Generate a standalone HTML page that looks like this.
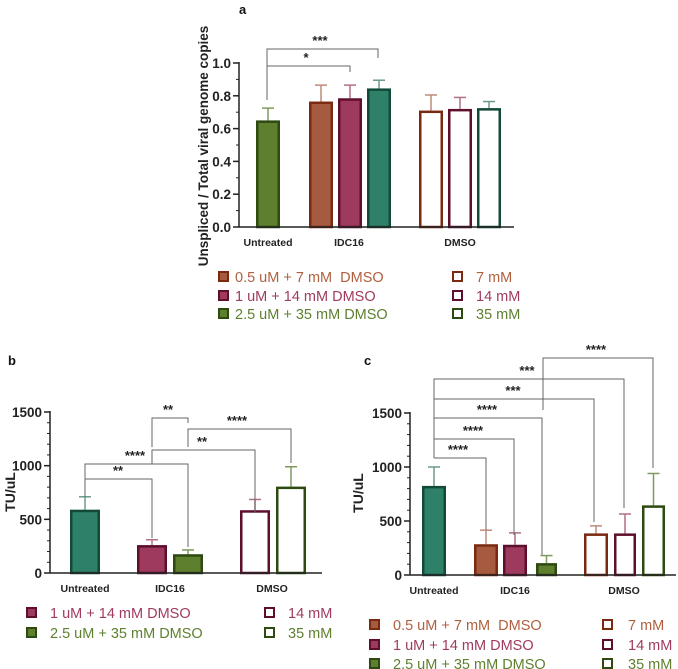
<!DOCTYPE html>
<html><head><meta charset="utf-8">
<style>
html,body{margin:0;padding:0;background:#fff;}
svg{display:block;font-family:"Liberation Sans",Arial,sans-serif;}
</style></head>
<body>
<svg id="fig" width="678" height="669" viewBox="0 0 678 669"></svg>
<script>
// ---- data ----
const catsA = ["Untreated","IDC16","DMSO"];
const valsA = [0.65, 0.765, 0.785, 0.845, 0.71, 0.72, 0.725];
const errA  = [0.725, 0.865, 0.865, 0.895, 0.805, 0.79, 0.765];
const ticksA = [0.0, 0.2, 0.4, 0.6, 0.8, 1.0];
const valsB = [590, 260, 175, 585, 805];
const errB  = [710, 310, 215, 685, 990];
const ticksB = [0, 500, 1000, 1500];
const valsC = [825, 285, 280, 110, 385, 385, 645];
const errC  = [1000, 415, 390, 180, 455, 565, 940];
const ticksC = [0, 500, 1000, 1500];
const sigA = ["*","***"];
const sigB = ["**","****","**","****","**"];
const sigC = ["****","****","****","***","***","****"];

const NS="http://www.w3.org/2000/svg";
const svg=document.getElementById('fig');
function el(tag,attrs,parent){const e=document.createElementNS(NS,tag);for(const k in attrs)e.setAttribute(k,attrs[k]);(parent||svg).appendChild(e);return e;}
function txt(s,attrs,parent){const t=el('text',attrs,parent);t.textContent=s;return t;}

const ST={
 teal:{fill:'#2e8068',stroke:'#124a38'},
 org:{fill:'#a65a3f',stroke:'#7a2a10'},
 mag:{fill:'#9e3a5e',stroke:'#5e0f2e'},
 grn:{fill:'#5e7f2e',stroke:'#2d4a10'},
 horg:{fill:'#fff',stroke:'#7a2a10'},
 hmag:{fill:'#fff',stroke:'#5e0f2e'},
 hgrn:{fill:'#fff',stroke:'#2d4a10'},
 hteal:{fill:'#fff',stroke:'#124a38'}
};
const errCol={teal:'#6a9a88',org:'#c08a78',mag:'#b07088',grn:'#7e9a5e',horg:'#c08a78',hmag:'#b07088',hgrn:'#7e9a5e',hteal:'#6a9a88'};

function panel(o){
 const g=el('g',{});
 
 
 const y=v=>o.y0-(v-o.min)/(o.max-o.min)*(o.y0-o.ytop);
 o.vals.forEach((v,i)=>{
  const b=o.bars[i], s=ST[b.s];
  const cx=b.x+b.w/2;
  const ln=el('line',{x1:cx,x2:cx,y1:y(v),y2:y(o.err[i]),stroke:errCol[b.s],'stroke-width':1.5},g);
  
  
  const cap=el('line',{x1:cx-6,x2:cx+6,y1:y(o.err[i]),y2:y(o.err[i]),stroke:errCol[b.s],'stroke-width':1.5},g);
  
  
  const r=el('rect',{x:b.x+1.25,y:y(v)+1.25,width:b.w-2.5,height:Math.max(0,o.y0-y(v)-1.25),fill:s.fill,stroke:s.stroke,'stroke-width':2.5},g);
  
  
 });
 el('line',{x1:o.ax,x2:o.ax,y1:o.ytop-1,y2:o.y0,stroke:'#222','stroke-width':1.5},g);
 el('line',{x1:o.ax,x2:o.xend,y1:o.y0,y2:o.y0,stroke:'#222','stroke-width':1.5},g);
 for(let k=0;k<=o.minorN;k++){const v=o.min+(o.max-o.min)*k/o.minorN;el('line',{x1:o.ax-3,x2:o.ax,y1:y(v),y2:y(v),stroke:'#222','stroke-width':1},g);}
 o.ticks.forEach(t=>{
  el('line',{x1:o.ax-6,x2:o.ax,y1:y(t),y2:y(t),stroke:'#222','stroke-width':1.5},g);
  const tl=txt(o.fmt(t),{x:o.ax-8,y:y(t)+5,'text-anchor':'end','font-size':13.5,'font-weight':'bold',fill:'#222'},g);
  
  
 });
 o.cats.forEach((c,i)=>{
  const t=txt(c,{x:o.catX[i],y:o.catY,'text-anchor':'middle','font-size':10.5,'font-weight':'bold',fill:'#222'},g);
  
  
 });
 const yt=txt(o.title,{x:0,y:0,transform:`translate(${o.titleX},${o.titleY}) rotate(-90)`,'text-anchor':'middle','font-size':o.titleSize||14,'font-weight':'bold',fill:'#222'},g);
 
 
 o.brk.forEach((b,i)=>{
  const p=el('path',{d:`M${b[0]},${b[3]}V${b[2]}H${b[1]}V${b[4]}`,fill:'none',stroke:'#666','stroke-width':1},g);
  
  
  const t=txt(o.sig[i],{x:b[5],y:b[2]-4,'text-anchor':'middle','font-size':13,'font-weight':'bold',fill:'#222'},g);
  
  
 });
 o.leg.forEach(L=>{
  const s=ST[L.s];
  const r=el('rect',{x:L.x+1,y:L.y-5,width:9,height:9,fill:s.fill,stroke:s.stroke,'stroke-width':2},g);
  
  
  const t=txt(L.t,{x:L.tx,y:L.y+5,'font-size':14.5,fill:L.c},g);
  
  
 });
 return y;
}

const cO='#b0603f', cM='#a03a60', cG='#5e8030';
const L05='0.5 uM + 7 mM\u00a0\u00a0DMSO';

panel({name:'panel-a',vals:valsA,err:errA,ticks:ticksA,min:0,max:1,y0:227,ytop:63,ax:239,xend:514,minorN:10,
 fmt:t=>t.toFixed(1),
 bars:[{x:256,w:24,s:'grn'},{x:309,w:24,s:'org'},{x:338,w:24,s:'mag'},{x:367,w:24,s:'teal'},{x:419,w:24,s:'horg'},{x:448,w:24,s:'hmag'},{x:477,w:24,s:'hteal'}],
 cats:catsA,catX:[268,349,460],catY:246,title:'Unspliced / Total viral genome copies',titleX:208,titleY:146,titleSize:13.5,
 sig:sigA,brk:[[267,350,66,72,72,306],[267,378,49,100,58,320]],
 leg:[{x:218,y:277,s:'org',t:L05,tx:235,c:cO},{x:218,y:296,s:'mag',t:'1 uM + 14 mM DMSO',tx:235,c:cM},{x:218,y:314,s:'grn',t:'2.5 uM + 35 mM DMSO',tx:235,c:cG},
      {x:452,y:277,s:'horg',t:'7 mM',tx:476,c:cO},{x:452,y:296,s:'hmag',t:'14 mM',tx:476,c:cM},{x:452,y:314,s:'hgrn',t:'35 mM',tx:476,c:cG}]
});
panel({name:'panel-b',vals:valsB,err:errB,ticks:ticksB,min:0,max:1500,y0:573,ytop:412,ax:50,xend:322,minorN:15,
 fmt:t=>String(t),
 bars:[{x:70,w:30,s:'teal'},{x:137,w:30,s:'mag'},{x:173,w:30,s:'grn'},{x:240,w:30,s:'hmag'},{x:276,w:30,s:'hgrn'}],
 cats:["Untreated","IDC16","DMSO"],catX:[85,170,272],catY:592,title:'TU/uL',titleX:15,titleY:492,
 sig:sigB,brk:[[85,152,479,497,538,118],[85,188,464,479,547,135],[152,255,450,464,513,202],[188,291,429,447,463,237],[152,188,418,447,423,168]],
 leg:[{x:26,y:613,s:'mag',t:'1 uM + 14 mM DMSO',tx:50,c:cM},{x:26,y:633,s:'grn',t:'2.5 uM + 35 mM DMSO',tx:50,c:cG},
      {x:264,y:613,s:'hmag',t:'14 mM',tx:288,c:cM},{x:264,y:633,s:'hgrn',t:'35 mM',tx:288,c:cG}]
});
panel({name:'panel-c',vals:valsC,err:errC,ticks:ticksC,min:0,max:1500,y0:575,ytop:413,ax:410,xend:676,minorN:15,
 fmt:t=>String(t),
 bars:[{x:422,w:24,s:'teal'},{x:474,w:24,s:'org'},{x:503,w:24,s:'mag'},{x:536,w:21,s:'grn'},{x:584,w:24,s:'horg'},{x:614,w:22,s:'hmag'},{x:642,w:23,s:'hgrn'}],
 cats:["Untreated","IDC16","DMSO"],catX:[434,515,624],catY:594,title:'TU/uL',titleX:363,titleY:493,
 sig:sigC,brk:[[434,486,458,458,530,458],[434,514,439,439,535,473],[434,542,418,418,555,487],[434,594,399,399,522,513],[434,624,379,458,508,527],[543,653,358,410,468,596]],
 leg:[{x:369,y:625,s:'org',t:L05,tx:393,c:cO},{x:369,y:645,s:'mag',t:'1 uM + 14 mM DMSO',tx:393,c:cM},{x:369,y:664,s:'grn',t:'2.5 uM + 35 mM DMSO',tx:393,c:cG},
      {x:602,y:625,s:'horg',t:'7 mM',tx:628,c:cO},{x:602,y:645,s:'hmag',t:'14 mM',tx:628,c:cM},{x:602,y:664,s:'hgrn',t:'35 mM',tx:628,c:cG}]
});
[['a',239,14],['b',8,365],['c',364,365]].forEach(p=>{
 const t=txt(p[0],{x:p[1],y:p[2],'font-size':13,'font-weight':'bold',fill:'#111'});
 
 
});
</script>
</body></html>
